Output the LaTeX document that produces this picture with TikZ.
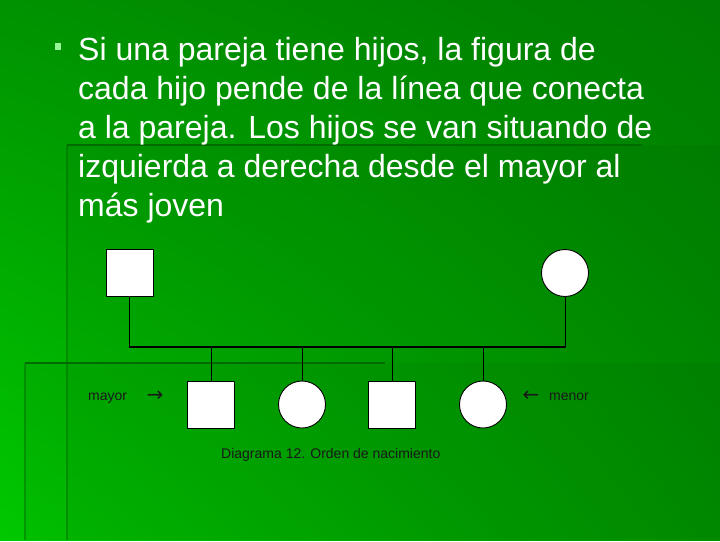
\documentclass[tikz,border=0pt]{standalone}
\usepackage{fontspec}
\setmainfont{Liberation Sans}
\newfontfamily\flechas{DejaVu Sans}
\usetikzlibrary{shadings}
\definecolor{fondoUL}{HTML}{009200}
\definecolor{fondoUR}{HTML}{007C00}
\definecolor{fondoLL}{HTML}{00C800}
\definecolor{fondoLR}{HTML}{009400}
\definecolor{borde}{HTML}{006C00}
\definecolor{vineta}{HTML}{99F599}
\begin{document}
\begin{tikzpicture}[x=1pt,y=-1pt,line join=round,line cap=round,
  hombre/.style={draw=black,fill=white,minimum width=47pt,minimum height=47pt,inner sep=0pt,line width=0.9pt},
  mujer/.style={draw=black,fill=white,circle,minimum size=47pt,inner sep=0pt,line width=0.9pt},
  etiq/.style={font=\fontsize{14}{16}\selectfont,text=black!90,inner sep=0pt}]
%fondo
\shade[upper left=fondoUL,upper right=fondoUR,lower left=fondoLL,lower right=fondoLR](0,0)rectangle(720,540);
\fill[black,fill opacity=.04](67,145)rectangle(720,540);
\fill[black,fill opacity=.04](25,363)rectangle(720,540);
\draw[borde,draw opacity=.5,line width=2pt,line cap=butt](67,540)--(67,145);
\draw[borde,line width=2.5pt,line cap=butt](67,145)--(642,145);
\draw[borde,draw opacity=.5,line width=2pt,line cap=butt](25,540)--(25,363);
\draw[borde,line width=2.5pt,line cap=butt](25,363)--(385,363);
%texto
\node[fill=vineta,minimum width=6pt,minimum height=7pt,inner sep=0pt](vineta)at(58,46){};
\foreach \t [count=\i from 0] in {{Si una pareja tiene hijos, la figura de},{cada hijo pende de la línea que conecta},{a la pareja. Los hijos se van situando de},{izquierda a derecha desde el mayor al},{más joven}}
  \node[anchor=base west,text=white,font=\fontsize{32}{39}\selectfont,inner sep=0pt](lin\i)at(78,{60+39*\i}){\t};
%diagrama
\node[hombre](padre)at(129.5,273){};
\node[mujer](madre)at(565,273){};
\coordinate(u1)at(129.5,347);
\coordinate(u2)at(565,347);
\draw[line width=0.8pt](padre.south)--(u1);
\draw[line width=0.8pt](madre.south)--(u2);
\draw[line width=2pt](u1)--(u2);
\foreach \n/\s/\x in {h1/hombre/211,h2/mujer/302,h3/hombre/392,h4/mujer/483}{
  \node[\s](\n)at(\x,404.5){};
  \draw[line width=0.8pt](\n.north)--(\n.north|-u1);}
\node[etiq,anchor=base west](mayor)at(88,400){mayor};
\node[etiq,font=\flechas\fontsize{20}{20}\selectfont](f1)at(155,396){→};
\node[etiq,font=\flechas\fontsize{20}{20}\selectfont](f2)at(531,396){←};
\node[etiq,anchor=base west](menor)at(549,400){menor};
\node[etiq,anchor=base west](pie)at(221,458){Diagrama 12. Orden de nacimiento};
\end{tikzpicture}
\end{document}
